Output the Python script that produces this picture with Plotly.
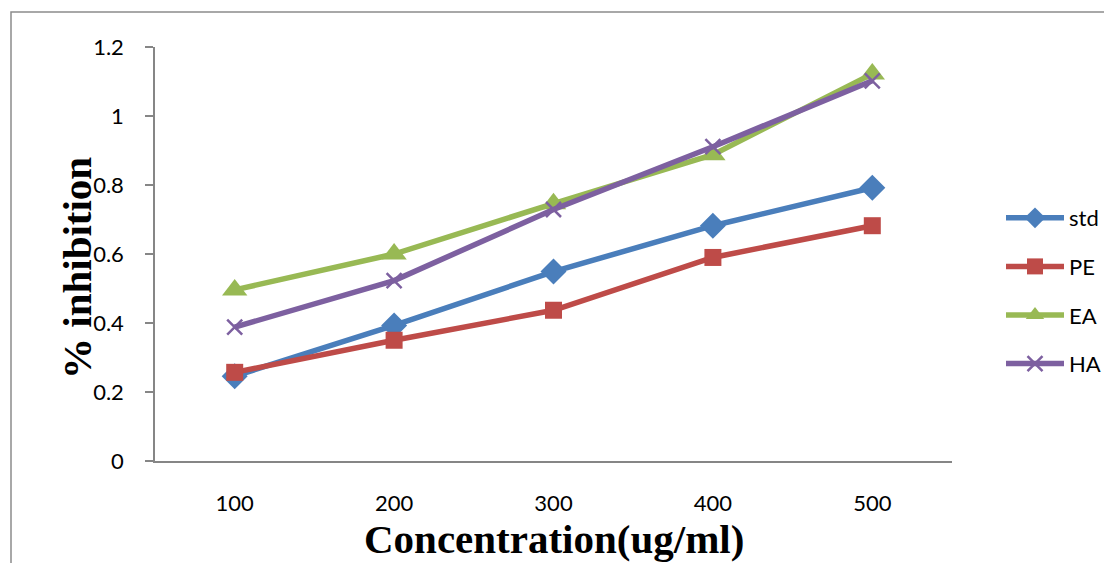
import plotly.graph_objects as go

categories = ["100", "200", "300", "400", "500"]
std = [0.246, 0.393, 0.549, 0.682, 0.792]
pe = [0.257, 0.350, 0.437, 0.590, 0.682]
ea = [0.496, 0.600, 0.746, 0.888, 1.122]
ha = [0.388, 0.523, 0.729, 0.911, 1.102]
y_ticks = [0, 0.2, 0.4, 0.6, 0.8, 1, 1.2]
y_tick_labels = ["0", "0.2", "0.4", "0.6", "0.8", "1", "1.2"]

series = [
    ("std", std, "#4A7EBB", "diamond", 20),
    ("PE", pe, "#BE4B48", "square", 17),
    ("EA", ea, "#98B954", "triangle-up", 22),
    ("HA", ha, "#7D60A0", "x-thin", 15),
]

fig = go.Figure()
for name, vals, color, sym, size in series:
    fig.add_trace(go.Scatter(
        x=categories, y=vals, name=name, mode="lines+markers",
        line=dict(color=color, width=5.5),
        marker=dict(symbol=sym, size=size, color=color,
                    line=dict(color=color, width=2.5 if sym == "x-thin" else 0)),
        legendgroup=name,
    ))

# page offset of the figure inside the browser page (body margin)
OFF = 8
L, R, T, B = 155 - OFF, 952 - OFF, 47 - OFF, 461 - OFF
W, H = 1112 - OFF, 563 - OFF


def px(x):
    return (x - OFF - L) / (R - L)


def py(y):
    return (B - (y - OFF)) / (B - T)


fig.update_layout(
    width=W, height=H,
    margin=dict(l=L, r=W - R, t=T, b=H - B, autoexpand=False),
    paper_bgcolor="white", plot_bgcolor="white",
    font=dict(family="Lato, sans-serif", color="black"),
    showlegend=True,
    legend=dict(x=px(1001), y=py(197), xanchor="left", yanchor="top",
                font=dict(size=22, family="Lato"), tracegroupgap=17,
                itemwidth=58, bgcolor="rgba(0,0,0,0)"),
    xaxis=dict(type="category", range=[-0.5, 4.5], showgrid=False,
               showline=True, linecolor="#868686", linewidth=1.5,
               ticks="", tickfont=dict(size=22, family="Lato"),
               ticklabelstandoff=22, zeroline=False),
    yaxis=dict(range=[0, 1.2], tickvals=y_ticks, ticktext=y_tick_labels,
               showgrid=False, showline=True, linecolor="#868686", linewidth=1.5,
               ticks="outside", ticklen=8, tickcolor="#868686", tickwidth=1.5,
               tickfont=dict(size=22, family="Lato"), ticklabelstandoff=17,
               zeroline=False),
    shapes=[dict(type="rect", xref="paper", yref="paper",
                 x0=px(11), x1=px(1140), y0=py(600), y1=py(12),
                 line=dict(color="#8C8C8C", width=1.5), fillcolor="rgba(0,0,0,0)",
                 layer="below")],
    annotations=[
        dict(text="<b>% inhibition</b>", xref="paper", yref="paper",
             x=px(77), y=py(268), textangle=-90, showarrow=False,
             font=dict(family="Liberation Serif", size=41, color="black"),
             xanchor="center", yanchor="middle"),
        dict(text="<b>Concentration(ug/ml)</b>", xref="paper", yref="paper",
             x=px(554), y=py(539), showarrow=False,
             font=dict(family="Liberation Serif", size=41, color="black"),
             xanchor="center", yanchor="middle"),
    ],
)

fig.write_html("out.html")
